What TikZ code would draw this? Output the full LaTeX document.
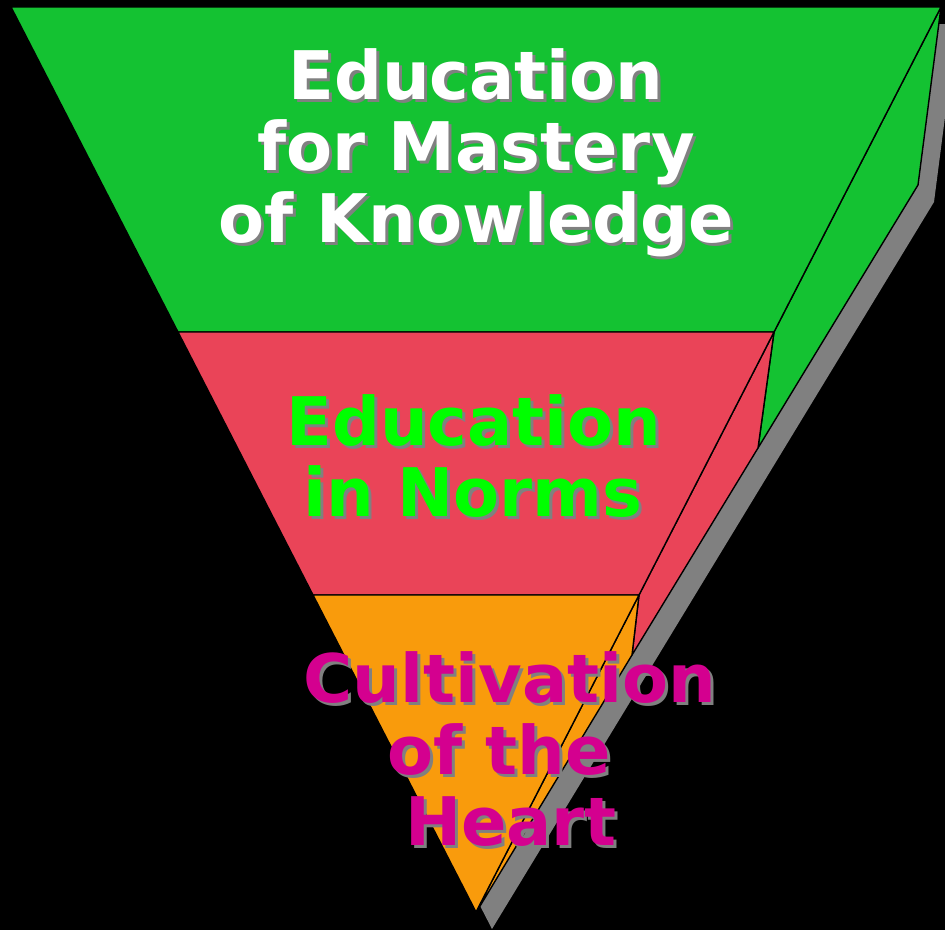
\documentclass[tikz,border=0pt]{standalone}
\usepackage{fontspec}
\newfontfamily\dvsans{DejaVu Sans}
\definecolor{lgreen}{HTML}{14C232}
\definecolor{lred}{HTML}{EA4458}
\definecolor{lorange}{HTML}{F99B0C}
\definecolor{lmag}{HTML}{D4008F}
\definecolor{lime}{HTML}{00FF00}
\definecolor{shgray}{HTML}{808080}
\tikzset{
  face/.style={draw=black, line width=1.4pt, line join=round},
  lbl/.style={inner sep=0pt, anchor=base, font=\dvsans\bfseries\fontsize{67}{72}\selectfont},
}
\newcommand{\shtext}[4]{% name, position, colour, text
  \node[lbl, text=shgray] (#1s) at ($(#2)+(3,3)$) {#4};
  \node[lbl, text=#3] (#1) at (#2) {#4};
}
\usetikzlibrary{calc}
\begin{document}
\begin{tikzpicture}[x=1pt,y=-1pt]
\useasboundingbox (0,0) rectangle (945,930);
\fill[black] (0,0) rectangle (945,930);
% key points
\coordinate (A) at (11,7);
\coordinate (B) at (941,7);
\coordinate (C) at (178,332);
\coordinate (D) at (774,332);
\coordinate (E) at (313,595);
\coordinate (F) at (639,595);
\coordinate (G) at (476,912);
\coordinate (H) at (918,185);
\coordinate (I) at (758,448);
\coordinate (J) at (632,655);
\coordinate (K) at (477,911);
% shadow
\begin{scope}
\clip (0,0) rectangle (945,930);
\fill[shgray] ($(A)+(16,17)$) -- ($(B)+(16,17)$) -- ($(H)+(16,17)$) -- ($(G)+(16,17)$) -- cycle;
\end{scope}
% side faces
\filldraw[face, fill=lgreen] (B) -- (H) -- (I) -- (D) -- cycle;
\filldraw[face, fill=lred] (D) -- (I) -- (J) -- (F) -- cycle;
\filldraw[face, fill=lorange] (F) -- (J) -- (K) -- (G) -- cycle;
% front layers
\filldraw[face, fill=lgreen] (A) -- (B) -- (D) -- (C) -- cycle;
\filldraw[face, fill=lred] (C) -- (D) -- (F) -- (E) -- cycle;
\filldraw[face, fill=lorange] (E) -- (F) -- (G) -- cycle;
% text positions
\coordinate (t1) at (476,99);
\coordinate (t2) at (476,170);
\coordinate (t3) at (476,242);
\coordinate (t4) at (474,445);
\coordinate (t5) at (473,516);
\coordinate (t6) at (510,702);
\coordinate (t7) at (499,774);
\coordinate (t8) at (511,845);
\shtext{l1}{t1}{white}{Education}
\shtext{l2}{t2}{white}{for Mastery}
\shtext{l3}{t3}{white}{of Knowledge}
\shtext{l4}{t4}{lime}{Education}
\shtext{l5}{t5}{lime}{in Norms}
\shtext{l6}{t6}{lmag}{Cultivation}
\shtext{l7}{t7}{lmag}{of the}
\shtext{l8}{t8}{lmag}{Heart}
\end{tikzpicture}
\end{document}
